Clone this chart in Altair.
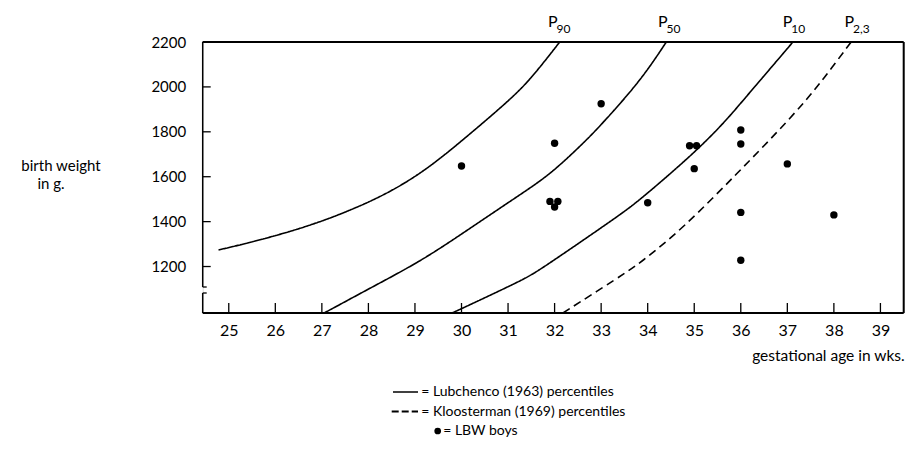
import altair as alt
import pandas as pd

FONT = "Lato"

# ---- percentile curves (gestational week, birth weight g)
p90_weeks = [24.78, 25.39, 26.32, 27.03, 27.53, 28.32, 29.18, 30.04, 31.0, 31.47, 32.11]
p90_grams = [1274, 1303, 1355, 1404, 1444, 1515, 1620, 1765, 1935, 2030, 2200]
p50_weeks = [27.05, 28.03, 29.11, 29.97, 31.04, 31.68, 32.11, 32.68, 33.04, 33.86, 34.40]
p50_grams = [993, 1103, 1222, 1340, 1490, 1578, 1650, 1762, 1840, 2031, 2200]
p10_weeks = [29.8, 31.32, 31.68, 33.40, 33.83, 34.97, 35.62, 36.05, 36.40, 37.12]
p10_grams = [993, 1140, 1184, 1429, 1496, 1700, 1835, 1940, 2025, 2200]
p23_weeks = [32.18, 33.40, 33.83, 34.76, 35.97, 36.83, 37.41, 37.76, 38.37]
p23_grams = [993, 1155, 1214, 1370, 1625, 1808, 1942, 2031, 2200]

# ---- LBW boys
boy_weeks = [30, 32, 31.9, 32.07, 32, 33, 34, 34.9, 35.05, 35, 36, 36, 36, 36, 37, 38]
boy_grams = [1648, 1749, 1490, 1490, 1465, 1925, 1484, 1738, 1738, 1636, 1808, 1746, 1441, 1228, 1657, 1430]

# ---- labels
curve_sub = ["90", "50", "10", "2,3"]
curve_label_weeks = [31.86, 34.22, 36.90, 38.23]
x_tick_values = list(range(25, 40))
y_tick_values = [1200, 1400, 1600, 1800, 2000, 2200]

W, H = 701, 271
xs = alt.Scale(domain=[24.44, 39.5], nice=False, zero=False)
ys = alt.Scale(domain=[993, 2200], nice=False, zero=False)

rows = []
for name, wk, gr, style in [("P90", p90_weeks, p90_grams, "solid"),
                            ("P50", p50_weeks, p50_grams, "solid"),
                            ("P10", p10_weeks, p10_grams, "solid"),
                            ("P2.3", p23_weeks, p23_grams, "dashed")]:
    for i, (a, b) in enumerate(zip(wk, gr)):
        rows.append({"series": name, "week": a, "grams": b, "style": style, "order": i})
curves = pd.DataFrame(rows)
boys = pd.DataFrame({"week": boy_weeks, "grams": boy_grams})
labels = pd.DataFrame({"week": curve_label_weeks, "sub": curve_sub, "P": ["P"] * 4})
xt = pd.DataFrame({"week": x_tick_values})
yt = pd.DataFrame({"grams": y_tick_values})
one = pd.DataFrame({"a": [0]})

xaxis = alt.Axis(values=x_tick_values, domain=False, ticks=False, grid=False, title=None,
                 labelFont=FONT, labelFontSize=16, labelPadding=9, labelColor="black")
yaxis = alt.Axis(values=y_tick_values, domain=False, ticks=False, grid=False, title=None,
                 format="d", labelFont=FONT, labelFontSize=15, labelPadding=17,
                 labelColor="black")

lines = alt.Chart(curves).mark_line(interpolate="basis", clip=True, color="black",
                                    strokeWidth=1.6).encode(
    x=alt.X("week:Q", scale=xs, axis=xaxis),
    y=alt.Y("grams:Q", scale=ys, axis=yaxis),
    detail="series:N",
    order="order:Q",
    strokeDash=alt.StrokeDash("style:N", legend=None,
                              scale=alt.Scale(domain=["solid", "dashed"], range=[[1, 0], [8, 5]])),
)

dots = alt.Chart(boys).mark_circle(size=55, color="black", opacity=1).encode(
    x=alt.X("week:Q", scale=xs), y=alt.Y("grams:Q", scale=ys))

xticks = alt.Chart(xt).mark_rule(color="black", strokeWidth=1.3).encode(
    x=alt.X("week:Q", scale=xs), y=alt.value(H), y2=alt.value(H - 10))
yticks = alt.Chart(yt).mark_rule(color="black", strokeWidth=1.3).encode(
    y=alt.Y("grams:Q", scale=ys), x=alt.value(0), x2=alt.value(8))

def seg(x1, y1, x2, y2, sw=2.0, dash=None):
    kw = dict(color="black", strokeWidth=sw)
    if dash:
        kw["strokeDash"] = dash
    return alt.Chart(one).mark_rule(**kw).encode(
        x=alt.value(x1), y=alt.value(y1), x2=alt.value(x2), y2=alt.value(y2))

frame = [
    seg(0, 0, W, 0, 2.2),
    seg(W, 0, W, H, 2.0),
    seg(0, H, W, H, 2.2),
    seg(0, 0, 0, 245, 1.5),
    seg(0, 251, 0, H, 1.5),
    seg(0, 245, 4, 245, 1.3),
    seg(0, 251, 4, 251, 1.3),
]

p_text = alt.Chart(labels).mark_text(font=FONT, fontSize=16, align="left",
                                     baseline="alphabetic", color="black").encode(
    x=alt.X("week:Q", scale=xs), y=alt.value(-15), text="P:N")
sub_text = alt.Chart(labels).mark_text(font=FONT, fontSize=12, align="left",
                                       baseline="alphabetic", color="black", dx=8.5).encode(
    x=alt.X("week:Q", scale=xs), y=alt.value(-9.5), text="sub:N")

def txt(s, x, y, size=15, align="left"):
    return alt.Chart(one).mark_text(text=s, font=FONT, fontSize=size, align=align,
                                    baseline="middle", color="black").encode(
        x=alt.value(x), y=alt.value(y))

texts = [
    txt("birth weight", -141.7, 123.5, 15, "center"),
    txt("in g.", -151.7, 141.5, 15, "center"),
    txt("gestational age in wks.", 702, 314, 15.5, "right"),
    txt("= Lubchenco (1963) percentiles", 218.5, 350, 14),
    txt("= Kloosterman (1969) percentiles", 218.5, 369.5, 14),
    txt("= LBW boys", 240.5, 389, 14),
]

legend_marks = [
    seg(190.3, 350, 215.3, 350, 1.5),
    seg(189, 369.5, 215.3, 369.5, 1.8, [7, 3]),
    alt.Chart(one).mark_circle(size=45, color="black", opacity=1).encode(
        x=alt.value(235), y=alt.value(389)),
]

chart = alt.layer(lines, dots, xticks, yticks, *frame, p_text, sub_text, *texts,
                  *legend_marks).properties(
    width=W, height=H,
    autosize=alt.AutoSizeParams(type="none"),
    padding={"left": 202.7, "top": 42, "right": 4.3, "bottom": 137},
).configure_view(stroke=None).configure(background="white")

chart.save("out.html", embed_options={"renderer": "svg", "actions": False})
